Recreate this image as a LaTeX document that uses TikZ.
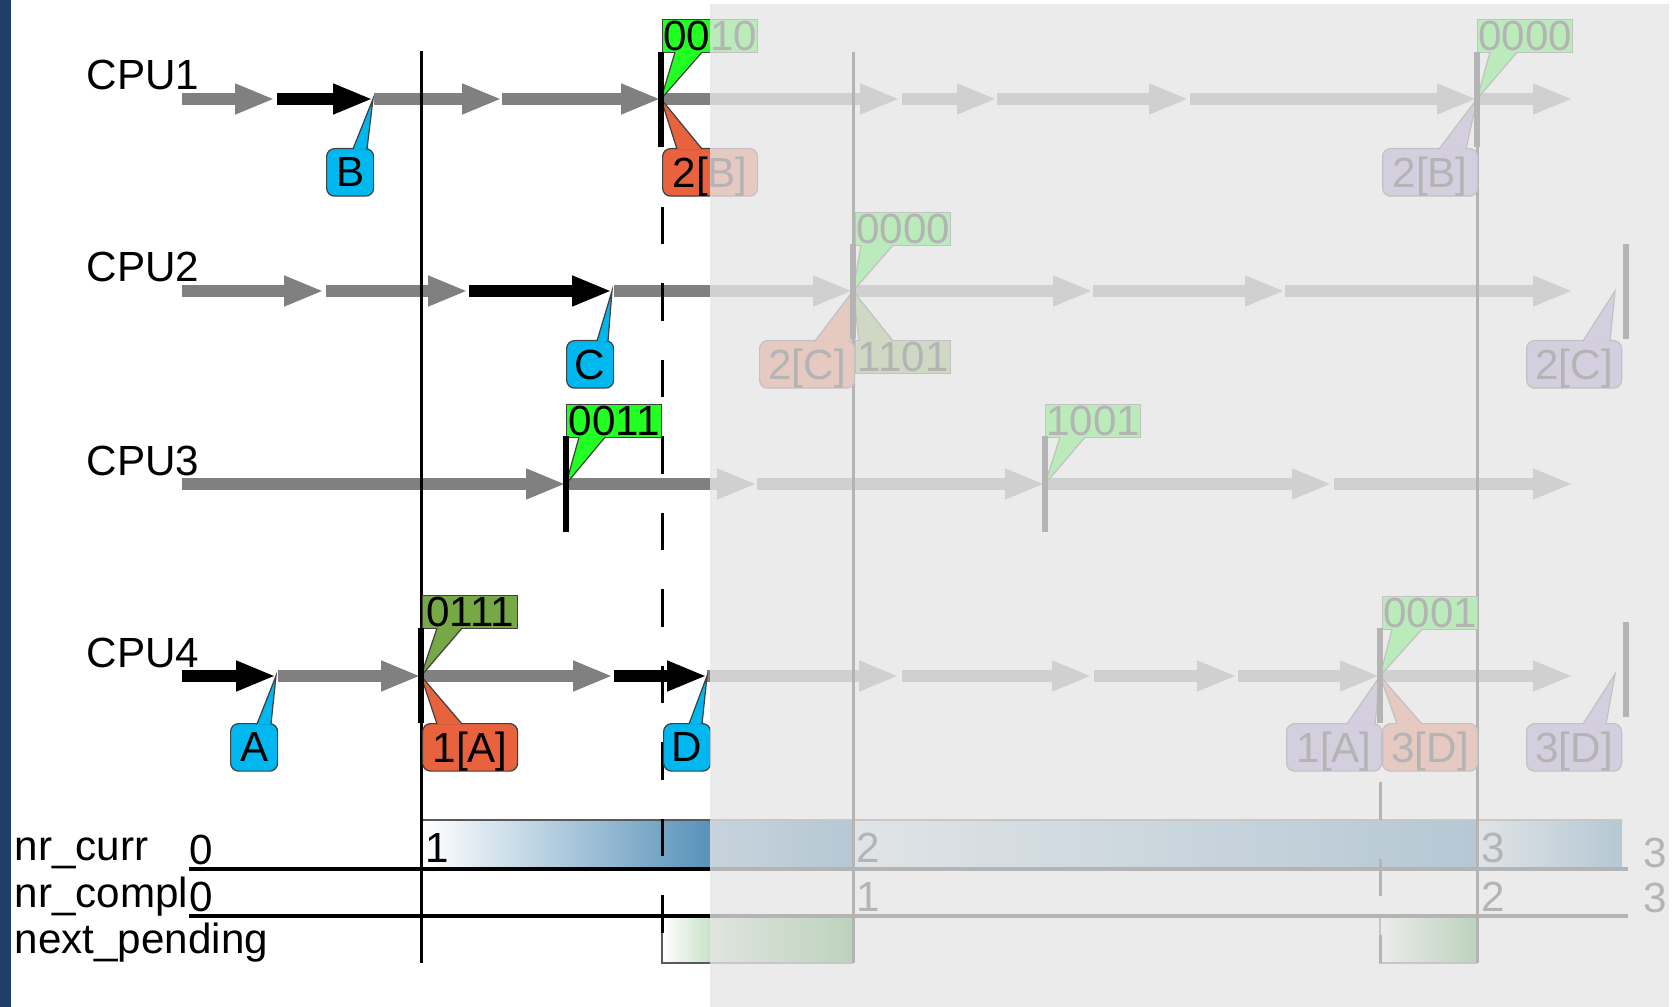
\documentclass[tikz,border=0pt]{standalone}
\usepackage{fontspec}
\setmainfont{Liberation Sans}
\usetikzlibrary{arrows.meta,calc}

\definecolor{flowgray}{RGB}{128,128,128}
\definecolor{bitgreen}{RGB}{34,255,34}
\definecolor{bitolive}{RGB}{119,168,70}
\definecolor{tagblue}{RGB}{0,183,240}
\definecolor{tagred}{RGB}{232,98,62}
\definecolor{tagpurple}{RGB}{150,125,200}
\definecolor{barblue}{RGB}{5,92,150}
\definecolor{bargreen}{RGB}{40,140,40}
\definecolor{fadegray}{RGB}{230,230,230}
\definecolor{sidebar}{RGB}{31,63,106}

\begin{document}
\begin{tikzpicture}[x=0.1mm, y=-0.1mm,
    font=\fontsize{12}{14}\selectfont,
    every node/.style={inner sep=0pt, text depth=0pt},
    flow/.style={line width=1.15mm, draw=flowgray, -{Triangle[length=4mm,width=2.8mm]}},
    busy/.style={flow, draw=black},
    tick/.style={line width=0.65mm},
    cut/.style={line width=0.3mm},
    gap/.style={cut, dash pattern=on 3.75mm off 3.9mm},
    rule/.style={line width=0.35mm},
    rim/.style={draw=black!75, line width=0.35pt},
    bits/.style={rim, anchor=north west, minimum width=9.5mm, minimum height=3.3mm},
    tag/.style={rim, rounded corners=0.8mm, anchor=north west, minimum width=9.5mm, minimum height=4.75mm},
    key/.style={tag, minimum width=4.7mm}]
    \useasboundingbox (0,0) rectangle (1676,1007);
    \fill[white] (0,0) rectangle (1676,1007);
    \fill[sidebar] (0,0) rectangle (11,1007);

    % events on the four timelines
    \coordinate (B) at (373,99);
    \coordinate (c1a) at (661,99);
    \coordinate (c1b) at (1477,99);
    \coordinate (C) at (612,291);
    \coordinate (c2a) at (853,291);
    \coordinate (end2) at (1615,291);
    \coordinate (c3a) at (566,484);
    \coordinate (c3b) at (1045,484);
    \coordinate (A) at (276,676);
    \coordinate (c4a) at (421,676);
    \coordinate (D) at (707,676);
    \coordinate (c4b) at (1380,676);
    \coordinate (end4) at (1615,674);

    % counters at the bottom
    \shade[left color=white, right color=barblue] (423,820) rectangle (853,869);
    \shade[left color=barblue!20, right color=barblue] (853,820) rectangle (1477,869);
    \shade[left color=barblue!20, right color=barblue] (1477,820) rectangle (1622,869);
    \draw[gray!70!black, thin] (423,820) -- (1622,820);
    \shade[left color=white, right color=bargreen] (662,916) rectangle (853,963);
    \shade[left color=white, right color=bargreen] (1380,916) rectangle (1477,963);
    \draw[gray!70!black, thin] (662,916) -- (662,963) -- (853,963);
    \draw[gray!70!black, thin] (1380,916) -- (1380,963) -- (1477,963);
    \draw[rule] (189,869) -- (1628,869);
    \draw[rule] (189,916) -- (1628,916);

    % CPU1
    \draw[flow] (182,99) -- (275,99);
    \draw[busy] (277,99) -- (B);
    \draw[flow] (374,99) -- (502,99);
    \draw[flow] (502,99) -- (c1a);
    \draw[flow] (c1a) -- (900,99);
    \draw[flow] (902,99) -- (997,99);
    \draw[flow] (997,99) -- (1189,99);
    \draw[flow] (1190,99) -- (c1b);
    \draw[flow] (c1b) -- (1573,99);

    % CPU2
    \draw[flow] (182,291) -- (324,291);
    \draw[flow] (326,291) -- (468,291);
    \draw[busy] (469,291) -- (C);
    \draw[flow] (614,291) -- (c2a);
    \draw[flow] (c2a) -- (1093,291);
    \draw[flow] (1093,291) -- (1285,291);
    \draw[flow] (1285,291) -- (1573,291);

    % CPU3
    \draw[flow] (182,484) -- (c3a);
    \draw[flow] (c3a) -- (757,484);
    \draw[flow] (757,484) -- (c3b);
    \draw[flow] (c3b) -- (1332,484);
    \draw[flow] (1334,484) -- (1573,484);

    % CPU4
    \draw[busy] (182,676) -- (A);
    \draw[flow] (278,676) -- (c4a);
    \draw[flow] (c4a) -- (613,676);
    \draw[busy] (614,676) -- (D);
    \draw[flow] (D) -- (899,676);
    \draw[flow] (902,676) -- (1092,676);
    \draw[flow] (1094,676) -- (1237,676);
    \draw[flow] (1238,676) -- (c4b);
    \draw[flow] (c4b) -- (1573,676);

    % grace periods
    \draw[cut] (421,51) -- (421,963);
    \draw[cut] (853,52) -- (853,963);
    \draw[cut] (1477,52) -- (1477,963);
    \draw[gap] (662,207) -- (662,963);
    \draw[gap] (1380,782) -- (1380,963);

    % callouts
    \node[bits, fill=bitgreen] (g0010) at (662,19) {0010};
    \filldraw[rim, fill=bitgreen] ($(g0010.south west)+(13,-1)$) -- (c1a) -- ($(g0010.south west)+(40,-1)$);
    \node[tag, fill=tagred] (r2B) at (662,148) {2[B]};
    \filldraw[rim, fill=tagred] ($(r2B.north west)+(15,1)$) -- (c1a) -- ($(r2B.north west)+(40,1)$);
    \node[key, fill=tagblue] (kB) at (326,148) {B};
    \filldraw[rim, fill=tagblue] ($(kB.north west)+(27,1)$) -- (B) -- ($(kB.north west)+(41,1)$);
    \node[bits, fill=bitgreen] (g0000a) at (1477,19) {0000};
    \filldraw[rim, fill=bitgreen] ($(g0000a.south west)+(13,-1)$) -- (c1b) -- ($(g0000a.south west)+(40,-1)$);
    \node[tag, fill=tagpurple] (p2B) at (1382,148) {2[B]};
    \filldraw[rim, fill=tagpurple] ($(p2B.north west)+(57,1)$) -- (c1b) -- ($(p2B.north west)+(84,1)$);

    \node[key, fill=tagblue] (kC) at (566,340) {C};
    \filldraw[rim, fill=tagblue] ($(kC.north west)+(31,1)$) -- (C) -- ($(kC.north west)+(42,1)$);
    \node[bits, fill=bitgreen] (g0000b) at (855,212) {0000};
    \filldraw[rim, fill=bitgreen] ($(g0000b.south west)+(6,-1)$) -- (c2a) -- ($(g0000b.south west)+(38,-1)$);
    \node[tag, fill=tagred] (r2C) at (759,340) {2[C]};
    \filldraw[rim, fill=tagred] ($(r2C.north west)+(56,1)$) -- (c2a) -- ($(r2C.north west)+(92,1)$);
    \node[bits, fill=bitolive] (o1101) at (855,340) {1101};
    \filldraw[rim, fill=bitolive] ($(o1101.north west)+(4,1)$) -- (c2a) -- ($(o1101.north west)+(38,1)$);
    \node[tag, fill=tagpurple] (p2C) at (1526,340) {2[C]};
    \filldraw[rim, fill=tagpurple] ($(p2C.north west)+(57,1)$) -- (end2) -- ($(p2C.north west)+(84,1)$);

    \node[bits, fill=bitgreen] (g0011) at (566,404) {0011};
    \filldraw[rim, fill=bitgreen] ($(g0011.south west)+(13,-1)$) -- (c3a) -- ($(g0011.south west)+(39,-1)$);
    \node[bits, fill=bitgreen] (g1001) at (1045,404) {1001};
    \filldraw[rim, fill=bitgreen] ($(g1001.south west)+(15,-1)$) -- (c3b) -- ($(g1001.south west)+(40,-1)$);

    \node[key, fill=tagblue] (kA) at (230,723) {A};
    \filldraw[rim, fill=tagblue] ($(kA.north west)+(27,1)$) -- (A) -- ($(kA.north west)+(41,1)$);
    \node[bits, fill=bitolive] (o0111) at (422,595) {0111};
    \filldraw[rim, fill=bitolive] ($(o0111.south west)+(15,-1)$) -- (c4a) -- ($(o0111.south west)+(40,-1)$);
    \node[tag, fill=tagred] (r1A) at (422,723) {1[A]};
    \filldraw[rim, fill=tagred] ($(r1A.north west)+(15,1)$) -- (c4a) -- ($(r1A.north west)+(40,1)$);
    \node[key, fill=tagblue] (kD) at (663,723) {D};
    \filldraw[rim, fill=tagblue] ($(kD.north west)+(26,1)$) -- (D) -- ($(kD.north west)+(39,1)$);
    \node[bits, fill=bitgreen] (g0001) at (1382,596) {0001};
    \filldraw[rim, fill=bitgreen] ($(g0001.south west)+(10,-1)$) -- (c4b) -- ($(g0001.south west)+(40,-1)$);
    \node[tag, fill=tagpurple] (p1A) at (1286,723) {1[A]};
    \filldraw[rim, fill=tagpurple] ($(p1A.north west)+(61,1)$) -- (c4b) -- ($(p1A.north west)+(89,1)$);
    \node[tag, fill=tagred] (r3D) at (1382,723) {3[D]};
    \filldraw[rim, fill=tagred] ($(r3D.north west)+(15,1)$) -- (c4b) -- ($(r3D.north west)+(40,1)$);
    \node[tag, fill=tagpurple] (p3D) at (1526,723) {3[D]};
    \filldraw[rim, fill=tagpurple] ($(p3D.north west)+(57,1)$) -- (end4) -- ($(p3D.north west)+(80,1)$);

    % quiescent states
    \draw[tick] (661,52) -- (661,147);
    \draw[tick] (1477,52) -- (1477,147);
    \draw[tick] (853,244) -- (853,339);
    \draw[tick] (1626,244) -- (1626,339);
    \draw[tick] (566,436) -- (566,532);
    \draw[tick] (1045,436) -- (1045,532);
    \draw[tick] (421,628) -- (421,723);
    \draw[tick] (1380,628) -- (1380,723);
    \draw[tick] (1626,622) -- (1626,717);

    % labels
    \node[anchor=base west] (cpu1) at (86,90) {CPU1};
    \node[anchor=base west] (cpu2) at (86,282) {CPU2};
    \node[anchor=base west] (cpu3) at (86,475) {CPU3};
    \node[anchor=base west] (cpu4) at (86,667) {CPU4};
    \node[anchor=base west] (curr) at (14,860) {nr\_curr};
    \node[anchor=base west] (compl) at (14,907) {nr\_compl};
    \node[anchor=base west] (pend) at (14,953) {next\_pending};

    \node[anchor=base west] (curr0) at (189,864) {0};
    \node[anchor=base west] (curr1) at (425,862) {1};
    \node[anchor=base west] (curr2) at (856,862) {2};
    \node[anchor=base west] (curr3) at (1481,862) {3};
    \node[anchor=base west] (curr4) at (1643,867) {3};
    \node[anchor=base west] (compl0) at (189,911) {0};
    \node[anchor=base west] (compl1) at (856,911) {1};
    \node[anchor=base west] (compl2) at (1481,911) {2};
    \node[anchor=base west] (compl3) at (1643,912) {3};

    % future part, faded out
    \fill[fadegray, opacity=0.785] (710,4) rectangle (1669,1007);
\end{tikzpicture}
\end{document}
